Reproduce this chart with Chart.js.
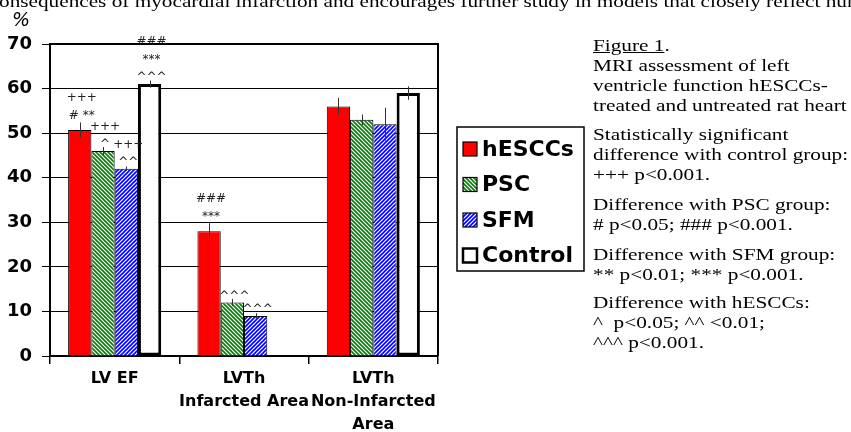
<!DOCTYPE html>
<html>
<head>
<meta charset="utf-8">
<script src="https://cdn.jsdelivr.net/npm/chart.js@4/dist/chart.umd.min.js"></script>
<style>
  html, body { margin: 0; padding: 0; background: #fff; }
  #wrap { position: relative; width: 851px; height: 432px; overflow: hidden; }
  #moodChart { position: absolute; left: 0; top: 0; }
  .serif { font-family: "Liberation Serif", "Times New Roman", serif; font-size: 17px; color: #000;
           transform: scaleX(1.25); transform-origin: 0 0; white-space: nowrap; position: absolute; line-height: 20px; }
  #pct { position: absolute; left: 12px; top: 8px; font: italic 19px "DejaVu Sans", sans-serif; }
</style>
</head>
<body>
<div id="wrap">
  <canvas id="moodChart" width="851" height="432"></canvas>
  <div class="serif" style="left:-1px; top:-8px;">onsequences of myocardial infarction and encourages further study in models that closely reflect human</div>
  <div id="pct">%</div>
  <div class="serif" style="left:593px; top:36px;"><u>Figure 1</u>.<br>MRI assessment of left<br>ventricle function hESCCs-<br>treated and untreated rat heart</div>
  <div class="serif" style="left:593px; top:125px;">Statistically significant<br>difference with control group:<br>+++ p&lt;0.001.</div>
  <div class="serif" style="left:593px; top:195px;">Difference with PSC group:<br># p&lt;0.05; ### p&lt;0.001.</div>
  <div class="serif" style="left:593px; top:245px;">Difference with SFM group:<br>** p&lt;0.01; *** p&lt;0.001.</div>
  <div class="serif" style="left:593px; top:293px;">Difference with hESCCs:<br>^&nbsp; p&lt;0.05; ^^ &lt;0.01;<br>^^^ p&lt;0.001.</div>
</div>
<script>
// data
let categories = [["LV EF"], ["LVTh", "Infarcted Area"], ["LVTh", "Non-Infarcted", "Area"]];
let seriesNames = ["hESCCs", "PSC", "SFM", "Control"];
let hesccs = [50.7, 28, 56];
let psc = [46, 12, 53];
let sfm = [42, 9, 52];
let control = [61, null, 59];
let hesccsErr = [1.7, 1.8, 1.9];
let pscErr = [0.9, 0.8, 1.2];
let sfmErr = [0.5, 0.6, 3.7];
let controlErr = [0.8, null, 1.5];
let hesccsMarks = [["+++", "# **"], ["###", "***"], []];
let pscMarks = [["+++", "^"], ["^^^"], []];
let sfmMarks = [["+++", "^^"], ["^^^"], []];
let controlMarks = [["###", "***", "^^^"], [], []];
let yTicks = [0, 10, 20, 30, 40, 50, 60, 70];

let errs = [hesccsErr, pscErr, sfmErr, controlErr];
let marks = [hesccsMarks, pscMarks, sfmMarks, controlMarks];

function stripes(color, slash) {
    let s = 4;
    let c = document.createElement("canvas");
    c.width = s; c.height = s;
    let g = c.getContext("2d");
    g.fillStyle = "#fff";
    g.fillRect(0, 0, s, s);
    g.strokeStyle = color;
    g.lineWidth = 1.6;
    g.beginPath();
    if (slash) {
        g.moveTo(0, s); g.lineTo(s, 0);
        g.moveTo(-1, 1); g.lineTo(1, -1);
        g.moveTo(s - 1, s + 1); g.lineTo(s + 1, s - 1);
    } else {
        g.moveTo(0, 0); g.lineTo(s, s);
        g.moveTo(-1, s - 1); g.lineTo(1, s + 1);
        g.moveTo(s - 1, -1); g.lineTo(s + 1, 1);
    }
    g.stroke();
    return g.createPattern(c, "repeat");
}

let greenFill = stripes("#008000", false);
let blueFill = stripes("#0000ff", true);
let fills = ["#ff0000", greenFill, blueFill, "#ffffff"];
let borders = [1, 1, 1, 3];

let errorBars = {
    id: "errorBars",
    afterDatasetsDraw(chart) {
        let ctx = chart.ctx;
        let y = chart.scales.y;
        ctx.save();
        ctx.strokeStyle = "#333";
        ctx.lineWidth = 1;
        chart.data.datasets.forEach((ds, i) => {
            chart.getDatasetMeta(i).data.forEach((bar, j) => {
                let v = ds.data[j], e = errs[i][j];
                if (v == null || e == null) return;
                let x = Math.round(bar.x) + 0.5;
                ctx.beginPath();
                ctx.moveTo(x, y.getPixelForValue(v + e));
                ctx.lineTo(x, y.getPixelForValue(v - e));
                ctx.stroke();
            });
        });
        ctx.restore();
    }
};

// significance marks sit above the error bar when it is long, else on the bar top
let sigMarks = {
    id: "sigMarks",
    afterDatasetsDraw(chart) {
        let ctx = chart.ctx;
        let y = chart.scales.y;
        ctx.save();
        ctx.font = "12px 'DejaVu Sans'";
        ctx.fillStyle = "#222";
        ctx.textAlign = "center";
        ctx.textBaseline = "alphabetic";
        chart.data.datasets.forEach((ds, i) => {
            chart.getDatasetMeta(i).data.forEach((bar, j) => {
                let lines = marks[i][j];
                if (!lines || !lines.length || ds.data[j] == null) return;
                let errTop = y.getPixelForValue(ds.data[j] + (errs[i][j] || 0));
                let base = bar.y - errTop > 6 ? errTop - 3 : bar.y - 3;
                for (let k = lines.length - 1, n = 0; k >= 0; k--, n++) {
                    ctx.fillText(lines[k], bar.x + 2, base - n * 18);
                }
            });
        });
        ctx.restore();
    }
};

let frame = {
    id: "frame",
    afterDraw(chart) {
        let ctx = chart.ctx;
        let a = chart.chartArea;
        ctx.save();
        ctx.strokeStyle = "#000";
        ctx.lineWidth = 2;
        ctx.beginPath();
        ctx.moveTo(a.left, a.top);
        ctx.lineTo(a.right, a.top);
        ctx.lineTo(a.right, a.bottom);
        ctx.stroke();

        // legend box
        let bx = 457, by = 127, bw = 127, bh = 144;
        ctx.lineWidth = 1.5;
        ctx.strokeRect(bx, by, bw, bh);
        ctx.font = "bold 22px 'DejaVu Sans'";
        ctx.textBaseline = "middle";
        ctx.textAlign = "left";
        seriesNames.forEach((name, i) => {
            let cy = 149 + i * 35.5;
            ctx.fillStyle = fills[i];
            ctx.fillRect(463, cy - 7, 14, 14);
            ctx.lineWidth = borders[i] === 3 ? 2.5 : 1.2;
            ctx.strokeStyle = "#000";
            ctx.strokeRect(463, cy - 7, 14, 14);
            ctx.fillStyle = "#000";
            ctx.fillText(name, 482, cy + 1);
        });
        ctx.restore();
    }
};

let ctx = document.getElementById("moodChart").getContext("2d");

let chart = new Chart(ctx, {
    type: "bar",
    data: {
        labels: categories,
        datasets: [hesccs, psc, sfm, control].map((d, i) => ({
            label: seriesNames[i],
            data: d,
            backgroundColor: fills[i],
            borderColor: "#000",
            borderWidth: borders[i],
            borderSkipped: i === 3 ? false : "start",
            categoryPercentage: 0.72,
            barPercentage: 1.0
        }))
    },
    options: {
        responsive: false,
        animation: false,
        layout: { padding: { top: 44, right: 413, left: 0, bottom: 0 } },
        plugins: {
            legend: { display: false },
            tooltip: { enabled: false }
        },
        scales: {
            x: {
                afterFit(s) { s.height = 76; },
                grid: { offset: true, drawOnChartArea: false, color: "#000", lineWidth: 1.5, tickLength: 8 },
                border: { color: "#000", width: 2 },
                ticks: {
                    color: "#000",
                    font: { family: "DejaVu Sans", weight: "bold", size: 16, lineHeight: 1.45 },
                    padding: 3,
                    maxRotation: 0,
                    autoSkip: false
                }
            },
            y: {
                min: 0,
                max: 70,
                afterFit(s) { s.width = 50; },
                afterBuildTicks(s) { s.ticks = yTicks.map(v => ({ value: v })); },
                grid: { color: "#000", lineWidth: 1, tickLength: 8 },
                border: { color: "#000", width: 2 },
                ticks: {
                    color: "#000",
                    font: { family: "DejaVu Sans", weight: "bold", size: 18 },
                    padding: 10
                }
            }
        }
    },
    plugins: [errorBars, sigMarks, frame]
});
</script>
</body>
</html>
